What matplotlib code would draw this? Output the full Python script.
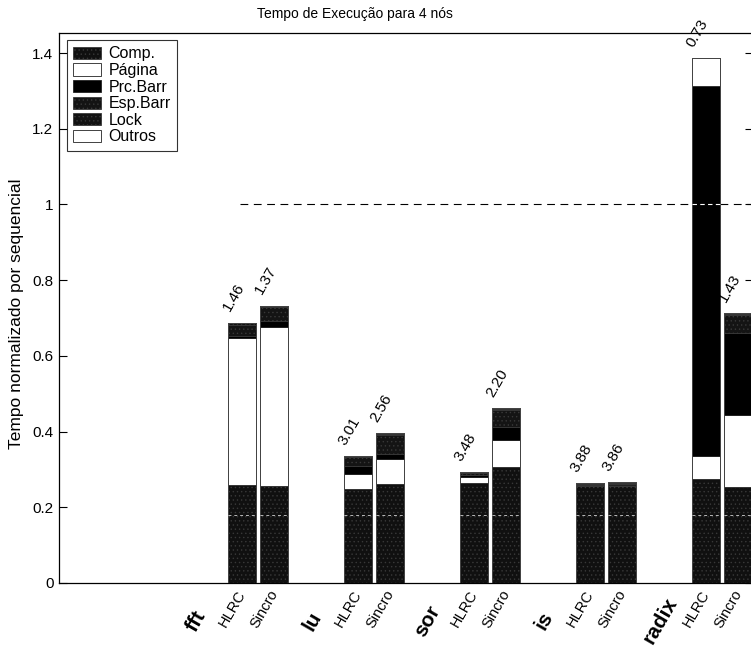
import matplotlib
matplotlib.use("Agg")
import matplotlib.pyplot as plt
import matplotlib.transforms as mtransforms
import numpy as np

plt.rcParams['font.family'] = ['Liberation Sans', 'DejaVu Sans']
plt.rcParams['hatch.linewidth'] = 0.5

# Benchmarks and protocols
benchmarks = ['fft', 'lu', 'sor', 'is', 'radix']
protocols = ['HLRC', 'Sincro']
components = ['Comp.', 'Página', 'Prc.Barr', 'Esp.Barr', 'Lock', 'Outros']

# Normalised execution-time breakdown (fraction of sequential time)
hlrc_comp   = [0.260, 0.248, 0.263, 0.255, 0.274]
hlrc_pagina = [0.386, 0.040, 0.016, 0.003, 0.061]
hlrc_prc    = [0.006, 0.022, 0.006, 0.002, 0.978]
hlrc_esp    = [0.030, 0.022, 0.005, 0.002, 0.000]
hlrc_lock   = [0.004, 0.002, 0.001, 0.001, 0.000]
hlrc_outros = [0.002, 0.001, 0.001, 0.000, 0.073]

sincro_comp   = [0.257, 0.261, 0.307, 0.255, 0.253]
sincro_pagina = [0.418, 0.067, 0.071, 0.004, 0.191]
sincro_prc    = [0.018, 0.013, 0.033, 0.002, 0.216]
sincro_esp    = [0.035, 0.050, 0.045, 0.003, 0.048]
sincro_lock   = [0.003, 0.003, 0.004, 0.001, 0.003]
sincro_outros = [0.002, 0.001, 0.001, 0.001, 0.001]

# Speedups written above each bar
hlrc_speedup   = ['1.46', '3.01', '3.48', '3.88', '0.73']
sincro_speedup = ['1.37', '2.56', '2.20', '3.86', '1.43']

# Segment styles: (facecolor, hatch)
styles = {
    'Comp.':    ('#101010', '....'),
    'Página':   ('white', None),
    'Prc.Barr': ('black', None),
    'Esp.Barr': ('#141414', '....'),
    'Lock':     ('#121212', '....'),
    'Outros':   ('white', None),
}

hlrc = [hlrc_comp, hlrc_pagina, hlrc_prc, hlrc_esp, hlrc_lock, hlrc_outros]
sincro = [sincro_comp, sincro_pagina, sincro_prc, sincro_esp, sincro_lock, sincro_outros]

group_step = 3.625
width = 0.875
base = np.arange(len(benchmarks)) * group_step
pos = {'HLRC': base + 1, 'Sincro': base + 2}

W, H = 751, 651
fig = plt.figure(figsize=(W / 100, H / 100), dpi=100)
ax = fig.add_axes([59 / W, (H - 583) / H, (753 - 59) / W, (583 - 33) / H])

handles = []
for prot, data in (('HLRC', hlrc), ('Sincro', sincro)):
    bottom = np.zeros(len(benchmarks))
    for name, vals in zip(components, data):
        fc, hatch = styles[name]
        vals = np.asarray(vals)
        ec = '#383838' if hatch else '#222222'
        b = ax.bar(pos[prot], vals, width, bottom=bottom, color=fc,
                   edgecolor=ec, hatch=hatch, linewidth=0.6, zorder=2,
                   label=name if prot == 'HLRC' else None)
        if prot == 'HLRC':
            handles.append(b)
        bottom += vals
    # outline of the whole stack
    ax.bar(pos[prot], bottom, width, fill=False, edgecolor='#444444',
           linewidth=0.7, zorder=3)
    tops = bottom
    labels = hlrc_speedup if prot == 'HLRC' else sincro_speedup
    for x, t, lab in zip(pos[prot], tops, labels):
        ax.annotate(lab, xy=(x, t), xytext=(-6.1, 18), textcoords='offset points',
                    rotation=60, rotation_mode='anchor', ha='center',
                    va='center', fontsize=11, zorder=5)
    # faint white dashes crossing the dark bars
    for x, t in zip(pos[prot], tops):
        ax.plot([x - width / 2, x + width / 2], [0.18, 0.18], color='white',
                lw=0.7, ls=(0, (3, 3)), alpha=0.7, zorder=4)
        if t > 1.0:
            ax.plot([x - width / 2, x + width / 2], [1.0, 1.0], color='white',
                    lw=0.8, ls=(0, (4, 3)), zorder=4)

# reference line at the sequential time
ax.plot([0.95, 17.5], [1.0, 1.0], color='black', lw=0.8,
        ls=(0, (7, 5)), zorder=1)

ax.set_xlim(1 - (242 - 59) / 32, 1 + (753 - 242) / 32)
ax.set_ylim(0, 1.453)
yt = [0, 0.2, 0.4, 0.6, 0.8, 1.0, 1.2, 1.4]
ax.set_yticks(yt)
ax.set_yticklabels(['0', '0.2', '0.4', '0.6', '0.8', '1', '1.2', '1.4'],
                   fontsize=11)
ax.tick_params(axis='y', direction='in', length=6, right=True, width=0.8,
               pad=4)

# protocol names under each bar
ax.set_xticks([])
trans = ax.get_xaxis_transform()
off = mtransforms.ScaledTranslation(-10 / 100, -26 / 100, fig.dpi_scale_trans)
for prot in protocols:
    for x in pos[prot]:
        ax.text(x, 0, prot, transform=trans + off, rotation=60,
                rotation_mode='anchor', ha='center', va='center',
                fontsize=10.5, clip_on=False)

# benchmark names in bold
off_b = mtransforms.ScaledTranslation(0, -38 / 100, fig.dpi_scale_trans)
for b, name in zip(base, benchmarks):
    ax.text(b + 1 - 1.44, 0, name, transform=trans + off_b, rotation=60,
            rotation_mode='anchor', ha='center', va='center',
            fontsize=15, fontweight='bold', clip_on=False)

for s in ax.spines.values():
    s.set_linewidth(0.9)

fig.text(17 / W, (H - 314) / H, 'Tempo normalizado por sequencial',
         rotation=90, ha='center', va='center', fontsize=12.5)
fig.text(355 / W, (H - 14) / H, 'Tempo de Execução para 4 nós',
         ha='center', va='center', fontsize=10)

leg = ax.legend(handles=handles, labels=components, loc='upper left',
                bbox_to_anchor=(8 / 694, 1 - 7 / 550), fontsize=11.5,
                frameon=True, fancybox=False, edgecolor='black',
                handlelength=1.7, handleheight=0.8, handletextpad=0.5,
                labelspacing=0.1, borderpad=0.4, borderaxespad=0)
leg.get_frame().set_linewidth(0.8)

fig.savefig('out.png', dpi=100)
